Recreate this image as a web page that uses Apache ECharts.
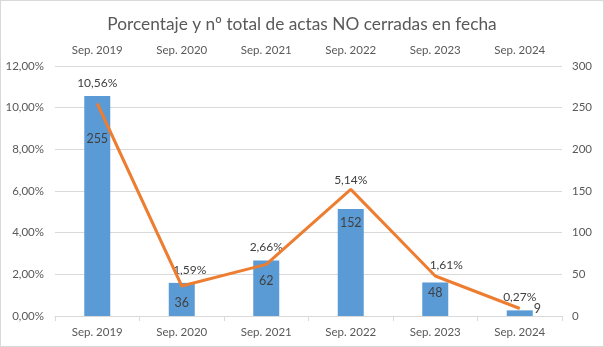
<!DOCTYPE html>
<html>
<head>
<meta charset="utf-8">
<script src="https://cdn.jsdelivr.net/npm/echarts@6/dist/echarts.min.js"></script>
<style>
html,body{margin:0;padding:0;background:#fff;}
#c{width:604px;height:347px;box-sizing:border-box;border:1px solid #D9D9D9;}
</style>
</head>
<body>
<div id="c"></div>
<script>
var categories = ['Sep. 2019','Sep. 2020','Sep. 2021','Sep. 2022','Sep. 2023','Sep. 2024'];
var percentValues = [10.56, 1.59, 2.66, 5.14, 1.61, 0.27];
var countValues = [255, 36, 62, 152, 48, 9];
var leftTicks = { min: 0, max: 12, interval: 2 };
var rightTicks = { min: 0, max: 300, interval: 50 };

// label placement tweaks (style only)
var pctLabelOffsets = [[0,0],[8,0],[0,0],[0,-16],[11,-4],[0,0]];
var countLabelStyle = [
  {position:'bottom', distance:29},
  {position:'bottom', distance:10},
  {position:'bottom', distance:10},
  {position:'bottom', distance:27},
  {position:'bottom', distance:10},
  {position:'right', distance:14}
];

var FONT = 'Lato';
var TXT = '#595959';
function fmtPct(v){ return v.toFixed(2).replace('.', ',') + '%'; }

var chart = echarts.init(document.getElementById('c'), null, {renderer:'canvas'});
chart.setOption({
  animation:false,
  textStyle:{fontFamily:FONT},
  title:{
    text:'Porcentaje y nº total de actas NO cerradas en fecha',
    left:'center', top:10,
    textStyle:{fontFamily:FONT, fontSize:17.3, fontWeight:'normal', color:TXT}
  },
  grid:{left:54, right:41, top:65, bottom:30, containLabel:false},
  xAxis:[
    {type:'category', data:categories, position:'bottom',
     axisLine:{lineStyle:{color:'#D9D9D9'}},
     axisTick:{show:true, length:5, lineStyle:{color:'#D9D9D9'}},
     axisLabel:{color:TXT, fontSize:11.5, fontFamily:FONT, margin:10}},
    {type:'category', data:categories, position:'top',
     axisLine:{show:false}, axisTick:{show:false}, splitLine:{show:false},
     axisLabel:{color:TXT, fontSize:11.5, fontFamily:FONT, margin:10}}
  ],
  yAxis:[
    {type:'value', min:leftTicks.min, max:leftTicks.max, interval:leftTicks.interval, position:'left',
     axisLine:{show:false}, axisTick:{show:false},
     splitLine:{lineStyle:{color:'#D9D9D9', width:1}},
     axisLabel:{color:TXT, fontSize:11.5, fontFamily:FONT, margin:11,
       formatter:function(v){return fmtPct(v);}}},
    {type:'value', min:rightTicks.min, max:rightTicks.max, interval:rightTicks.interval, position:'right',
     axisLine:{show:false}, axisTick:{show:false}, splitLine:{show:false},
     axisLabel:{color:TXT, fontSize:11.5, fontFamily:FONT, margin:10, align:'left'}}
  ],
  series:[
    {type:'bar', xAxisIndex:0, yAxisIndex:0, barWidth:26,
     itemStyle:{color:'#5B9BD5'},
     data:percentValues.map(function(v,i){
       return {value:v, label:{show:true, position:'top', distance:7, offset:pctLabelOffsets[i],
         formatter:fmtPct(v), color:'#404040', fontSize:12, fontFamily:FONT}};
     })},
    {type:'line', xAxisIndex:0, yAxisIndex:1, symbol:'circle', symbolSize:0, showSymbol:true, z:5,
     lineStyle:{color:'#ED7D31', width:3},
     itemStyle:{color:'#ED7D31'},
     labelLayout:{hideOverlap:false},
     data:countValues.map(function(v,i){
       return {value:v, label:{show:true, position:countLabelStyle[i].position,
         distance:countLabelStyle[i].distance,
         formatter:String(v), color:'#404040', fontSize:12.5, fontFamily:FONT}};
     })}
  ]
});
</script>
</body>
</html>
